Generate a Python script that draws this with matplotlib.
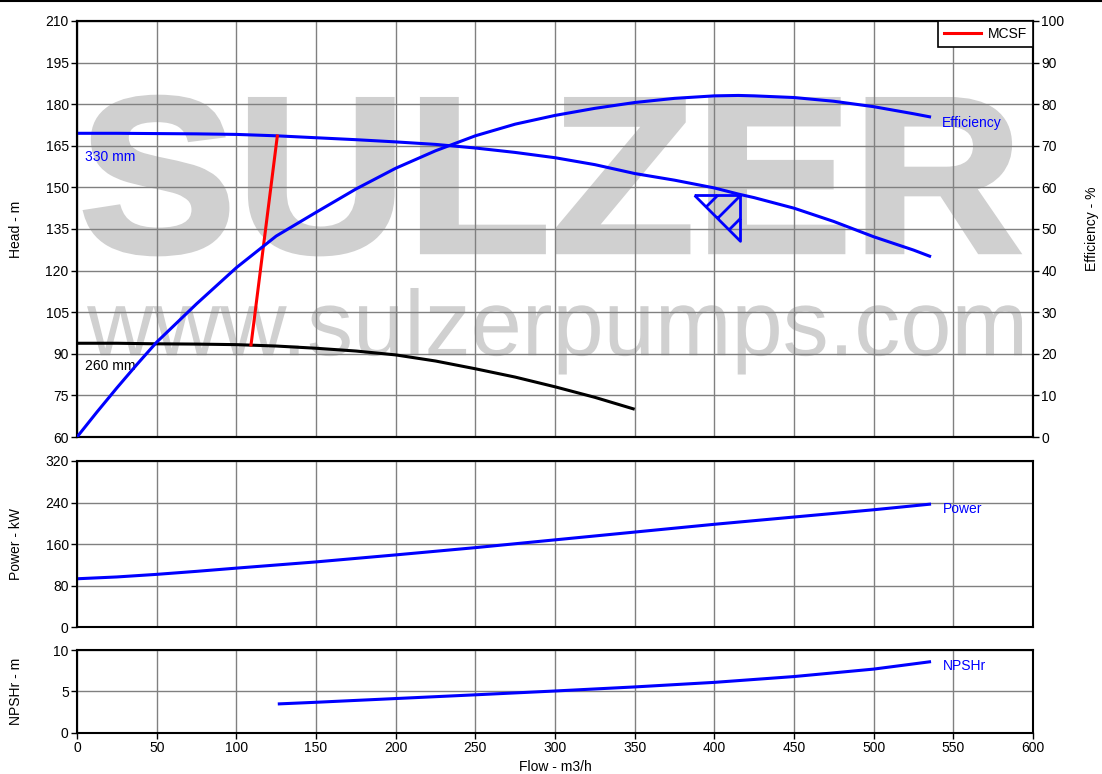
import matplotlib
matplotlib.use("Agg")
import matplotlib.pyplot as plt
from matplotlib.font_manager import FontProperties
from matplotlib.lines import Line2D
from matplotlib.patches import PathPatch
from matplotlib.path import Path
from matplotlib.textpath import TextPath
from matplotlib.transforms import Affine2D

plt.rcParams['font.family'] = ['Liberation Sans', 'DejaVu Sans']
plt.rcParams['font.size'] = 10

# pump curves, flow in m3/h
flow_330 = [0, 12.5, 25, 37.5, 50, 75, 100, 125, 150, 175, 200, 225, 250, 275, 300,
            325, 350, 375, 400, 415, 425, 450, 475, 500, 525, 536]
head_330 = [169.5, 169.5, 169.5, 169.45, 169.4, 169.3, 169.1, 168.6, 167.9, 167.2,
            166.4, 165.5, 164.2, 162.6, 160.7, 158.2, 155.0, 152.6, 149.8, 147.6,
            146.3, 142.5, 137.7, 132.2, 127.4, 125.0]
efficiency = [0, 6.0, 11.8, 17.4, 22.8, 32.0, 40.7, 48.3, 54.0, 59.6, 64.6, 68.8,
              72.4, 75.2, 77.3, 79.0, 80.4, 81.4, 82.0, 82.1, 82.0, 81.6, 80.7,
              79.4, 77.7, 76.9]

flow_260 = [0, 25, 50, 75, 100, 125, 150, 175, 200, 225, 250, 275, 300, 325, 350]
head_260 = [93.8, 93.8, 93.6, 93.5, 93.3, 92.8, 92.0, 91.0, 89.6, 87.4, 84.6,
            81.6, 78.1, 74.3, 70.0]

# minimum continuous stable flow line
mcsf_flow = [109.2, 125.7]
mcsf_head = [93.2, 168.5]

# best efficiency point
bep_flow = [416]
bep_head = [147.4]

flow_power = [0, 25, 50, 75, 100, 125, 150, 200, 250, 300, 350, 400, 450, 500, 536]
power = [93, 96.5, 101.5, 107.3, 113.5, 119.5, 125.5, 139, 153, 168, 183, 198,
         212, 226, 237]

flow_npsh = [126, 150, 200, 250, 300, 350, 400, 450, 500, 536]
npsh = [3.5, 3.7, 4.15, 4.6, 5.06, 5.55, 6.1, 6.8, 7.7, 8.6]

flow_ticks = list(range(0, 601, 50))
head_ticks = list(range(60, 211, 15))
eff_ticks = list(range(0, 101, 10))
power_ticks = [0, 80, 160, 240, 320]
npsh_ticks = [0, 5, 10]

BLUE = '#0000ff'
GRID = '#808080'
LW = 2.2
FS = 10


def style_axes(ax):
    ax.set_axisbelow(True)
    ax.grid(True, color=GRID, linewidth=1.0)
    for sp in ax.spines.values():
        sp.set_linewidth(1.5)
        sp.set_color('black')
    ax.tick_params(direction='out', length=4, width=1, pad=2, labelsize=FS)
    ax.set_xlim(0, 600)
    ax.set_xticks(flow_ticks)


def add_watermark(ax, text, box, weight, stroke=0.0):
    path = TextPath((0, 0), text, size=1,
                    prop=FontProperties(family='Liberation Sans', weight=weight))
    ext = path.get_extents()
    x0, y0, x1, y1 = box
    tr = (Affine2D().translate(-ext.x0, -ext.y0)
          .scale((x1 - x0) / ext.width, (y1 - y0) / ext.height)
          .translate(x0, y0))
    ax.add_patch(PathPatch(tr.transform_path(path), transform=ax.transAxes,
                           facecolor='#d0d0d0', edgecolor='#d0d0d0',
                           linewidth=stroke, joinstyle='miter', zorder=0.3))


# hatched triangle used to flag the BEP
tri = 46
bep_marker = Path(
    [(-tri, 0), (0, 0), (0, -tri), (-tri, 0),
     (-34.5, -11.5), (-23, 0),
     (-23, -23), (0, 0),
     (-11.5, -34.5), (0, -23)],
    [Path.MOVETO, Path.LINETO, Path.LINETO, Path.LINETO,
     Path.MOVETO, Path.LINETO,
     Path.MOVETO, Path.LINETO,
     Path.MOVETO, Path.LINETO])

fig = plt.figure(figsize=(11.02, 7.74), dpi=100)
ax_h = fig.add_axes([0.0699, 0.4354, 0.8675, 0.5375])
ax_p = fig.add_axes([0.0699, 0.1899, 0.8675, 0.2145], sharex=ax_h)
ax_n = fig.add_axes([0.0699, 0.0530, 0.8675, 0.1072], sharex=ax_h)

for a in (ax_h, ax_p, ax_n):
    style_axes(a)

# head / efficiency panel
add_watermark(ax_h, 'SULZER', (0.0090, 0.4400, 0.9840, 0.8170), 'bold', stroke=3.5)
add_watermark(ax_h, 'www.sulzerpumps.com', (0.0105, 0.1502, 0.9885, 0.3582), 'normal')

ax_h.plot(flow_330, head_330, color=BLUE, lw=LW, solid_capstyle='butt',
          solid_joinstyle='round', zorder=3)
ax_h.plot(flow_260, head_260, color='black', lw=LW, solid_capstyle='butt',
          solid_joinstyle='round', zorder=3)
mcsf, = ax_h.plot(mcsf_flow, mcsf_head, color='#ff0000', lw=LW, zorder=4, label='MCSF')
ax_h.plot(bep_flow, bep_head, linestyle='none', marker=bep_marker, markersize=66,
          markerfacecolor='none', markeredgecolor=BLUE, markeredgewidth=2, zorder=4)
ax_h.set_ylim(60, 210)
ax_h.set_yticks(head_ticks)
ax_h.tick_params(axis='x', length=0, labelbottom=False)
ax_h.set_ylabel('Head - m', fontsize=FS)
ax_h.yaxis.set_label_coords(-0.0565, 0.5)

ax_h.annotate('330 mm', (flow_330[0], head_330[0]), xytext=(5.5, -17),
              textcoords='offset points', color=BLUE, va='center', ha='left')
ax_h.annotate('260 mm', (flow_260[0], head_260[0]), xytext=(5.5, -16.5),
              textcoords='offset points', color='black', va='center', ha='left')

ax_e = ax_h.twinx()
ax_e.plot(flow_330, efficiency, color=BLUE, lw=LW, solid_capstyle='butt',
          solid_joinstyle='round', zorder=3)
ax_e.set_ylim(0, 100)
ax_e.set_yticks(eff_ticks)
for sp in ax_e.spines.values():
    sp.set_linewidth(1.5)
ax_e.tick_params(direction='out', length=4, width=1, pad=2, labelsize=FS)
ax_e.set_ylabel('Efficiency - %', fontsize=FS)
ax_e.yaxis.set_label_coords(1.0544, 0.5)
ax_e.annotate('Efficiency', (flow_330[-1], efficiency[-1]), xytext=(7.5, -4.5),
              textcoords='offset points', color=BLUE, va='center', ha='left')

leg = ax_e.legend(handles=[mcsf], loc='upper right', fancybox=False, framealpha=1,
                  edgecolor='black', borderaxespad=0, handlelength=2.6,
                  handletextpad=0.5, borderpad=0.45, fontsize=FS)
leg.get_frame().set_linewidth(1.2)

# power panel
ax_p.plot(flow_power, power, color=BLUE, lw=LW, solid_capstyle='butt',
          solid_joinstyle='round')
ax_p.set_ylim(0, 320)
ax_p.set_yticks(power_ticks)
ax_p.tick_params(axis='x', length=0, labelbottom=False)
ax_p.set_ylabel('Power - kW', fontsize=FS)
ax_p.yaxis.set_label_coords(-0.0565, 0.5)
ax_p.annotate('Power', (flow_power[-1], power[-1]), xytext=(8.5, -3.5),
              textcoords='offset points', color=BLUE, va='center', ha='left')

# NPSH panel
ax_n.plot(flow_npsh, npsh, color=BLUE, lw=LW, solid_capstyle='butt',
          solid_joinstyle='round')
ax_n.set_ylim(0, 10)
ax_n.set_yticks(npsh_ticks)
ax_n.set_ylabel('NPSHr - m', fontsize=FS)
ax_n.yaxis.set_label_coords(-0.0565, 0.5)
ax_n.set_xlabel('Flow - m3/h', fontsize=FS)
ax_n.xaxis.set_label_coords(0.5, -0.32)
ax_n.annotate('NPSHr', (flow_npsh[-1], npsh[-1]), xytext=(8.5, -3),
              textcoords='offset points', color=BLUE, va='center', ha='left')

fig.add_artist(Line2D([0, 1], [0.999, 0.999], color='black', lw=1.5,
                      transform=fig.transFigure))

fig.savefig('out.png', dpi=100)
